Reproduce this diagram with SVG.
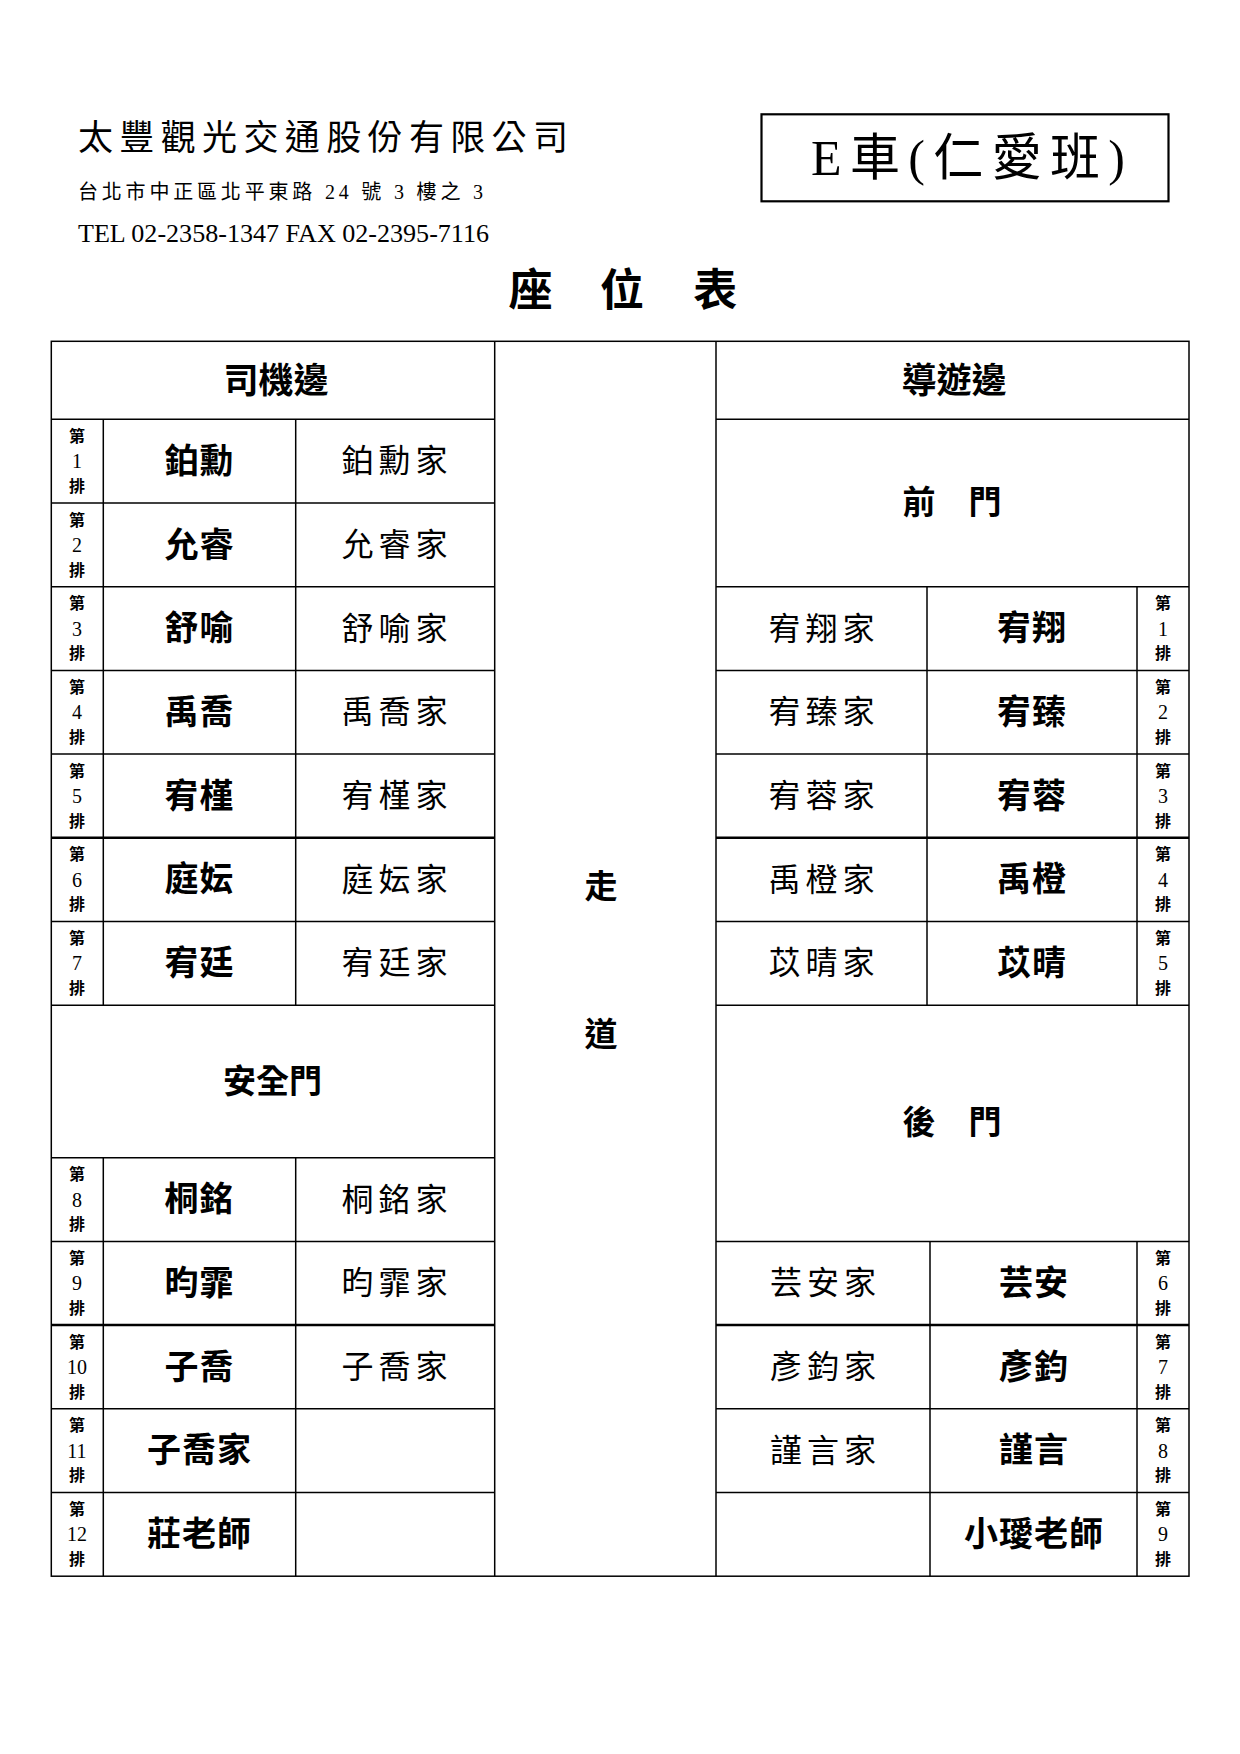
<svg xmlns="http://www.w3.org/2000/svg" width="1240" height="1754" viewBox="0 0 1240 1754">
<style>
text{font-family:"Liberation Serif","Noto Sans CJK TC",serif;fill:#000;dominant-baseline:central;text-anchor:middle}
.hd{font-size:35px;font-weight:700}
.nm{font-size:34px;font-weight:700;letter-spacing:1px}
.fm{font-size:32px;font-weight:400;letter-spacing:5px}
.dr{font-size:33px;font-weight:700}
.lb{font-size:16px;font-weight:700}
.dg{font-size:20px;font-weight:400}
.ln{stroke:#000;stroke-width:1.5;fill:none}
.tk{stroke:#000;stroke-width:2.5;fill:none}
</style>
<rect width="1240" height="1754" fill="#fff"/>
<g id="header">
<text x="78" y="138" style="font-size:35px;text-anchor:start" textLength="490" lengthAdjust="spacing">太豐觀光交通股份有限公司</text>
<text x="78" y="192" style="font-size:20px;text-anchor:start" textLength="405" lengthAdjust="spacing">台北市中正區北平東路 24 號 3 樓之 3</text>
<text x="78" y="241.5" style="font-size:25px;text-anchor:start;dominant-baseline:alphabetic" textLength="411" lengthAdjust="spacingAndGlyphs">TEL 02-2358-1347 FAX 02-2395-7116</text>
</g>
<g id="bus-box">
<rect x="761.5" y="114.3" width="407" height="87" fill="none" stroke="#000" stroke-width="2.2"/>
<text x="968" y="158" style="font-size:50px" textLength="314" lengthAdjust="spacing">E車(仁愛班)</text>
</g>
<g id="title" style="font-size:44px;font-weight:700">
<text x="530.6" y="291">座</text>
<text x="622" y="291">位</text>
<text x="715.3" y="291">表</text>
</g>
<g id="connectors">
<rect class="ln" x="51.3" y="341.3" width="1137.7" height="1234.9"/>
<line class="ln" x1="494.7" y1="341.3" x2="494.7" y2="1576.2"/>
<line class="ln" x1="716" y1="341.3" x2="716" y2="1576.2"/>
<line class="ln" x1="103.3" y1="419.3" x2="103.3" y2="1005.2"/>
<line class="ln" x1="103.3" y1="1157.7" x2="103.3" y2="1576.2"/>
<line class="ln" x1="295.7" y1="419.3" x2="295.7" y2="1005.2"/>
<line class="ln" x1="295.7" y1="1157.7" x2="295.7" y2="1576.2"/>
<line class="ln" x1="927" y1="586.7" x2="927" y2="1005.2"/>
<line class="ln" x1="930" y1="1241.4" x2="930" y2="1576.2"/>
<line class="ln" x1="1137" y1="586.7" x2="1137" y2="1005.2"/>
<line class="ln" x1="1137" y1="1241.4" x2="1137" y2="1576.2"/>
<g>
<line class="ln" x1="51.3" y1="419.3" x2="494.7" y2="419.3"/>
<line class="ln" x1="51.3" y1="503" x2="494.7" y2="503"/>
<line class="ln" x1="51.3" y1="586.7" x2="494.7" y2="586.7"/>
<line class="ln" x1="51.3" y1="670.4" x2="494.7" y2="670.4"/>
<line class="ln" x1="51.3" y1="754.1" x2="494.7" y2="754.1"/>
<line class="tk" x1="51.3" y1="837.8" x2="494.7" y2="837.8"/>
<line class="ln" x1="51.3" y1="921.5" x2="494.7" y2="921.5"/>
<line class="ln" x1="51.3" y1="1005.2" x2="494.7" y2="1005.2"/>
<line class="ln" x1="51.3" y1="1157.7" x2="494.7" y2="1157.7"/>
<line class="ln" x1="51.3" y1="1241.4" x2="494.7" y2="1241.4"/>
<line class="tk" x1="51.3" y1="1325.1" x2="494.7" y2="1325.1"/>
<line class="ln" x1="51.3" y1="1408.8" x2="494.7" y2="1408.8"/>
<line class="ln" x1="51.3" y1="1492.5" x2="494.7" y2="1492.5"/>
</g>
<g>
<line class="ln" x1="716" y1="419.3" x2="1189" y2="419.3"/>
<line class="ln" x1="716" y1="586.7" x2="1189" y2="586.7"/>
<line class="ln" x1="716" y1="670.4" x2="1189" y2="670.4"/>
<line class="ln" x1="716" y1="754.1" x2="1189" y2="754.1"/>
<line class="tk" x1="716" y1="837.8" x2="1189" y2="837.8"/>
<line class="ln" x1="716" y1="921.5" x2="1189" y2="921.5"/>
<line class="ln" x1="716" y1="1005.2" x2="1189" y2="1005.2"/>
<line class="ln" x1="716" y1="1241.4" x2="1189" y2="1241.4"/>
<line class="tk" x1="716" y1="1325.1" x2="1189" y2="1325.1"/>
<line class="ln" x1="716" y1="1408.8" x2="1189" y2="1408.8"/>
<line class="ln" x1="716" y1="1492.5" x2="1189" y2="1492.5"/>
</g>
</g>
<g id="driver-header"><text class="hd" x="276" y="381">司機邊</text></g>
<g id="guide-header"><text class="hd" x="954" y="381">導遊邊</text></g>
<g id="aisle"><text class="dr" x="601" y="887">走</text><text class="dr" x="601" y="1035">道</text></g>
<g id="front-door"><text class="dr" x="952" y="503">前　門</text></g>
<g id="emergency-door"><text class="dr" x="272.5" y="1082">安全門</text></g>
<g id="rear-door"><text class="dr" x="952" y="1123">後　門</text></g>

<g id="L1"><text class="lb" x="77" y="436">第</text><text class="dg" x="77" y="461">1</text><text class="lb" x="77" y="486">排</text><text class="nm" x="199.5" y="461">鉑勳</text><text class="fm" x="397" y="461">鉑勳家</text></g>
<g id="L2"><text class="lb" x="77" y="520">第</text><text class="dg" x="77" y="545">2</text><text class="lb" x="77" y="570">排</text><text class="nm" x="199.5" y="545">允睿</text><text class="fm" x="397" y="545">允睿家</text></g>
<g id="L3"><text class="lb" x="77" y="603.5">第</text><text class="dg" x="77" y="628.5">3</text><text class="lb" x="77" y="653.5">排</text><text class="nm" x="199.5" y="628.5">舒喻</text><text class="fm" x="397" y="628.5">舒喻家</text></g>
<g id="L4"><text class="lb" x="77" y="687">第</text><text class="dg" x="77" y="712">4</text><text class="lb" x="77" y="737">排</text><text class="nm" x="199.5" y="712">禹喬</text><text class="fm" x="397" y="712">禹喬家</text></g>
<g id="L5"><text class="lb" x="77" y="771">第</text><text class="dg" x="77" y="796">5</text><text class="lb" x="77" y="821">排</text><text class="nm" x="199.5" y="796">宥槿</text><text class="fm" x="397" y="796">宥槿家</text></g>
<g id="L6"><text class="lb" x="77" y="854.5">第</text><text class="dg" x="77" y="879.5">6</text><text class="lb" x="77" y="904.5">排</text><text class="nm" x="199.5" y="879.5">庭妘</text><text class="fm" x="397" y="879.5">庭妘家</text></g>
<g id="L7"><text class="lb" x="77" y="938">第</text><text class="dg" x="77" y="963">7</text><text class="lb" x="77" y="988">排</text><text class="nm" x="199.5" y="963">宥廷</text><text class="fm" x="397" y="963">宥廷家</text></g>
<g id="L8"><text class="lb" x="77" y="1174.5">第</text><text class="dg" x="77" y="1199.5">8</text><text class="lb" x="77" y="1224.5">排</text><text class="nm" x="199.5" y="1199.5">桐銘</text><text class="fm" x="397" y="1199.5">桐銘家</text></g>
<g id="L9"><text class="lb" x="77" y="1258">第</text><text class="dg" x="77" y="1283">9</text><text class="lb" x="77" y="1308">排</text><text class="nm" x="199.5" y="1283">昀霏</text><text class="fm" x="397" y="1283">昀霏家</text></g>
<g id="L10"><text class="lb" x="77" y="1342">第</text><text class="dg" x="77" y="1367">10</text><text class="lb" x="77" y="1392">排</text><text class="nm" x="199.5" y="1367">子喬</text><text class="fm" x="397" y="1367">子喬家</text></g>
<g id="L11"><text class="lb" x="77" y="1425.5">第</text><text class="dg" x="77" y="1450.5">11</text><text class="lb" x="77" y="1475.5">排</text><text class="nm" x="199.5" y="1450.5">子喬家</text></g>
<g id="L12"><text class="lb" x="77" y="1509">第</text><text class="dg" x="77" y="1534">12</text><text class="lb" x="77" y="1559">排</text><text class="nm" x="199.5" y="1534">莊老師</text></g>

<g id="R1"><text class="fm" x="824" y="628.5">宥翔家</text><text class="nm" x="1032" y="628.5">宥翔</text><text class="lb" x="1163" y="603.5">第</text><text class="dg" x="1163" y="628.5">1</text><text class="lb" x="1163" y="653.5">排</text></g>
<g id="R2"><text class="fm" x="824" y="712">宥臻家</text><text class="nm" x="1032" y="712">宥臻</text><text class="lb" x="1163" y="687">第</text><text class="dg" x="1163" y="712">2</text><text class="lb" x="1163" y="737">排</text></g>
<g id="R3"><text class="fm" x="824" y="796">宥蓉家</text><text class="nm" x="1032" y="796">宥蓉</text><text class="lb" x="1163" y="771">第</text><text class="dg" x="1163" y="796">3</text><text class="lb" x="1163" y="821">排</text></g>
<g id="R4"><text class="fm" x="824" y="879.5">禹橙家</text><text class="nm" x="1032" y="879.5">禹橙</text><text class="lb" x="1163" y="854.5">第</text><text class="dg" x="1163" y="879.5">4</text><text class="lb" x="1163" y="904.5">排</text></g>
<g id="R5"><text class="fm" x="824" y="963">苡晴家</text><text class="nm" x="1032" y="963">苡晴</text><text class="lb" x="1163" y="938">第</text><text class="dg" x="1163" y="963">5</text><text class="lb" x="1163" y="988">排</text></g>
<g id="R6"><text class="fm" x="825.5" y="1283">芸安家</text><text class="nm" x="1034" y="1283">芸安</text><text class="lb" x="1163" y="1258">第</text><text class="dg" x="1163" y="1283">6</text><text class="lb" x="1163" y="1308">排</text></g>
<g id="R7"><text class="fm" x="825.5" y="1367">彥鈞家</text><text class="nm" x="1034" y="1367">彥鈞</text><text class="lb" x="1163" y="1342">第</text><text class="dg" x="1163" y="1367">7</text><text class="lb" x="1163" y="1392">排</text></g>
<g id="R8"><text class="fm" x="825.5" y="1450.5">謹言家</text><text class="nm" x="1034" y="1450.5">謹言</text><text class="lb" x="1163" y="1425.5">第</text><text class="dg" x="1163" y="1450.5">8</text><text class="lb" x="1163" y="1475.5">排</text></g>
<g id="R9"><text class="nm" x="1034" y="1534">小璦老師</text><text class="lb" x="1163" y="1509">第</text><text class="dg" x="1163" y="1534">9</text><text class="lb" x="1163" y="1559">排</text></g>
</svg>
